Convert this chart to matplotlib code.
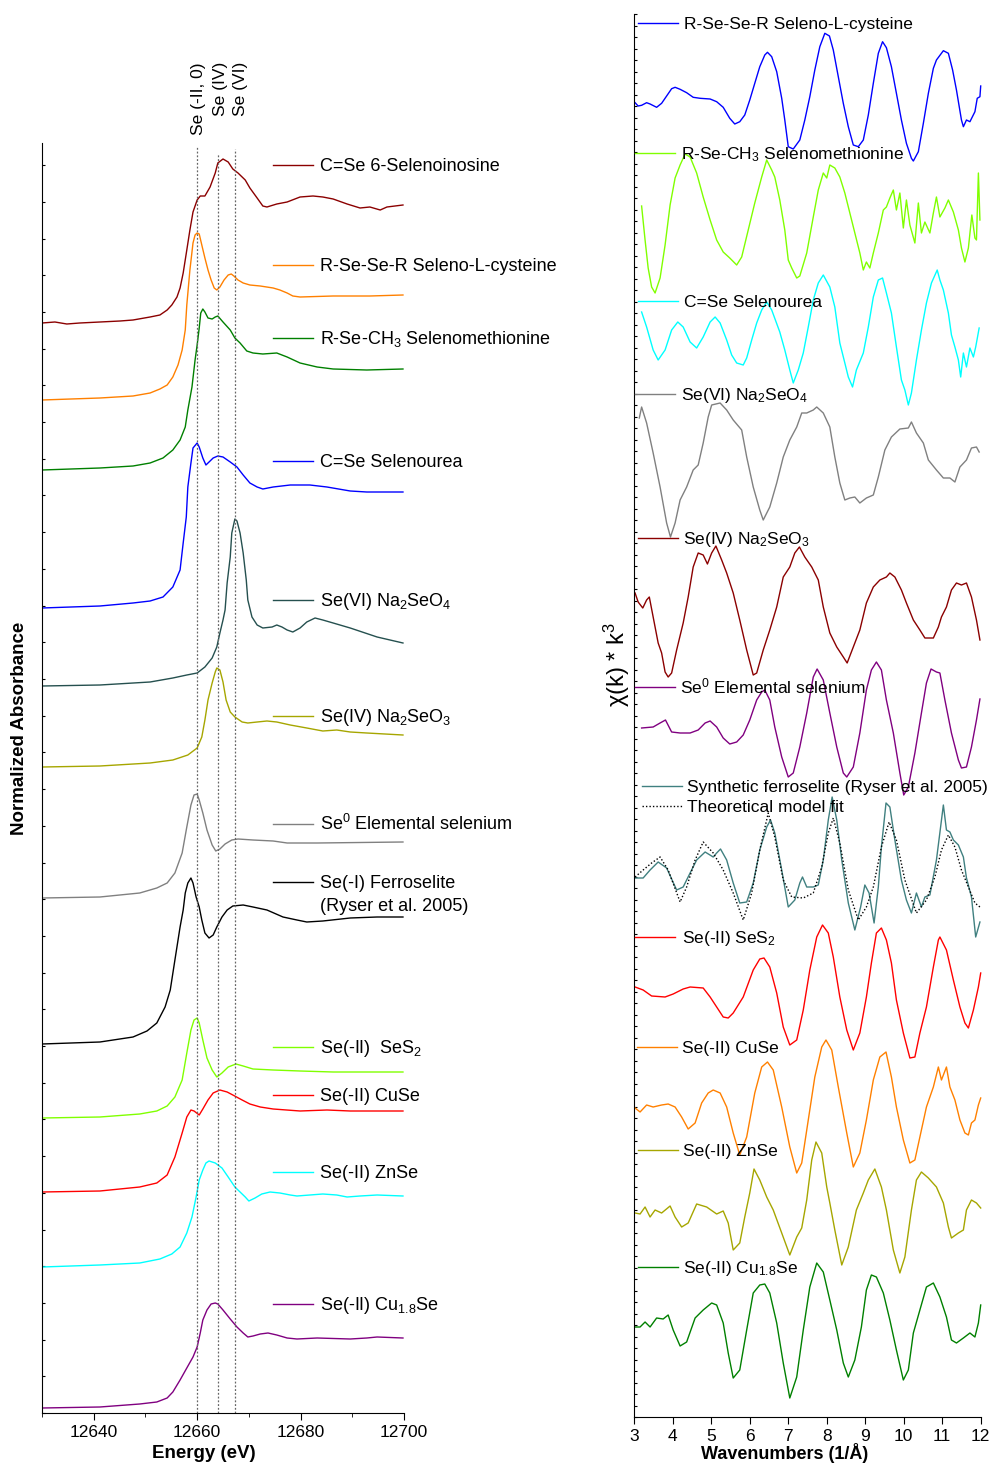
import matplotlib.pyplot as plt
from matplotlib.lines import Line2D
from matplotlib.ticker import MultipleLocator, FixedLocator

plt.rcParams['font.family'] = ['Liberation Sans', 'DejaVu Sans']
plt.rcParams['mathtext.fontset'] = 'custom'
plt.rcParams['mathtext.rm'] = 'Liberation Sans'
plt.rcParams['mathtext.it'] = 'Liberation Sans:italic'
plt.rcParams['mathtext.bf'] = 'Liberation Sans:bold'

# ---- Se K-edge XANES: (energy in eV, absorbance above pre-edge) ----
xanes_selenoinosine = [
    (12630.0, 0.00), (12632.5, 0.01), (12634.8, -0.01), (12637.3, 0.00), (12641.2, 0.01),
    (12645.1, 0.02), (12647.6, 0.03), (12650.9, 0.06), (12652.8, 0.08), (12654.2, 0.13),
    (12655.1, 0.18), (12656.1, 0.26), (12656.7, 0.35), (12657.3, 0.50), (12658.0, 0.73),
    (12658.6, 0.93), (12659.2, 1.11), (12660.0, 1.23), (12660.6, 1.27), (12661.5, 1.27),
    (12662.5, 1.36), (12663.5, 1.50), (12664.0, 1.60), (12665.0, 1.64), (12666.0, 1.61),
    (12666.9, 1.54), (12667.9, 1.50), (12669.3, 1.43), (12670.2, 1.35), (12671.6, 1.25),
    (12672.7, 1.17), (12673.5, 1.16), (12675.4, 1.19), (12677.4, 1.21), (12679.9, 1.26),
    (12682.4, 1.27), (12684.3, 1.26), (12686.3, 1.24), (12689.0, 1.19), (12691.5, 1.15),
    (12693.4, 1.16), (12695.4, 1.13), (12696.7, 1.16), (12699.8, 1.18)]
xanes_selenocystine = [
    (12630.0, 0.00), (12641.2, 0.02), (12647.6, 0.04), (12650.9, 0.07), (12652.8, 0.11),
    (12654.2, 0.15), (12655.3, 0.23), (12656.3, 0.35), (12657.1, 0.50), (12657.7, 0.70),
    (12658.0, 0.95), (12658.6, 1.30), (12659.2, 1.57), (12659.6, 1.65), (12660.0, 1.67),
    (12660.4, 1.66), (12660.9, 1.55), (12661.5, 1.42), (12662.1, 1.30), (12662.7, 1.20),
    (12663.3, 1.12), (12663.8, 1.10), (12664.4, 1.13), (12665.2, 1.20), (12666.0, 1.25),
    (12666.6, 1.26), (12667.1, 1.24), (12667.9, 1.20), (12668.9, 1.17), (12670.2, 1.15),
    (12672.2, 1.14), (12674.7, 1.12), (12676.0, 1.10), (12677.4, 1.07), (12678.5, 1.04),
    (12679.9, 1.03), (12686.3, 1.04), (12693.4, 1.04), (12699.8, 1.05)]
xanes_selenomethionine = [
    (12630.0, 0.00), (12641.2, 0.02), (12647.6, 0.04), (12650.9, 0.07), (12653.4, 0.12),
    (12655.3, 0.20), (12656.7, 0.30), (12657.7, 0.43), (12658.2, 0.60), (12659.0, 0.83),
    (12659.6, 1.10), (12660.0, 1.25), (12660.4, 1.42), (12660.7, 1.57), (12661.1, 1.61),
    (12661.5, 1.58), (12662.1, 1.52), (12662.9, 1.51), (12663.5, 1.53), (12664.0, 1.54),
    (12665.0, 1.48), (12666.4, 1.40), (12667.3, 1.32), (12668.3, 1.27), (12669.6, 1.19),
    (12670.8, 1.17), (12672.7, 1.16), (12675.4, 1.17), (12677.4, 1.13), (12679.9, 1.07),
    (12683.2, 1.03), (12686.3, 1.01), (12692.8, 1.00), (12699.8, 1.01)]
xanes_selenourea = [
    (12630.0, 0.00), (12641.2, 0.02), (12647.6, 0.05), (12650.9, 0.07), (12653.4, 0.11),
    (12655.3, 0.21), (12656.7, 0.38), (12657.3, 0.65), (12657.9, 0.91), (12658.2, 1.21),
    (12658.8, 1.45), (12659.2, 1.60), (12660.0, 1.65), (12660.4, 1.61), (12661.1, 1.50),
    (12661.7, 1.43), (12662.3, 1.46), (12663.1, 1.50), (12664.0, 1.52), (12665.0, 1.51),
    (12666.4, 1.46), (12667.7, 1.41), (12668.9, 1.33), (12670.2, 1.25), (12671.6, 1.21),
    (12672.7, 1.19), (12674.7, 1.21), (12678.0, 1.23), (12681.8, 1.23), (12685.1, 1.21),
    (12689.6, 1.17), (12692.8, 1.16), (12699.8, 1.16)]
xanes_selenate = [
    (12630.0, 0.00), (12641.2, 0.01), (12650.9, 0.04), (12655.3, 0.08), (12658.0, 0.11),
    (12660.0, 0.13), (12661.5, 0.19), (12662.9, 0.28), (12663.8, 0.39), (12664.4, 0.53),
    (12665.0, 0.66), (12665.4, 0.76), (12665.8, 1.03), (12666.4, 1.29), (12666.7, 1.53),
    (12667.3, 1.67), (12667.7, 1.65), (12668.3, 1.53), (12668.9, 1.33), (12669.5, 1.06),
    (12669.8, 0.86), (12670.6, 0.69), (12671.6, 0.61), (12672.7, 0.58), (12674.5, 0.59),
    (12675.4, 0.61), (12676.4, 0.59), (12677.4, 0.56), (12678.5, 0.54), (12679.9, 0.58),
    (12681.2, 0.64), (12682.8, 0.68), (12684.3, 0.66), (12686.3, 0.63), (12689.6, 0.58),
    (12694.8, 0.49), (12699.8, 0.43)]
xanes_selenite = [
    (12630.0, 0.00), (12641.2, 0.01), (12650.9, 0.04), (12655.3, 0.07), (12658.2, 0.12),
    (12660.0, 0.19), (12660.9, 0.30), (12661.5, 0.47), (12662.1, 0.67), (12662.9, 0.84),
    (12663.5, 0.95), (12663.8, 0.99), (12664.4, 0.97), (12665.0, 0.85), (12665.6, 0.67),
    (12666.4, 0.55), (12667.3, 0.50), (12668.7, 0.45), (12669.8, 0.44), (12671.6, 0.45),
    (12673.5, 0.46), (12675.4, 0.45), (12678.0, 0.42), (12681.2, 0.39), (12684.3, 0.36),
    (12687.0, 0.37), (12689.6, 0.35), (12692.8, 0.34), (12699.8, 0.32)]
xanes_elemental = [
    (12630.0, 0.00), (12641.2, 0.01), (12648.9, 0.05), (12652.2, 0.10), (12654.2, 0.15),
    (12655.7, 0.25), (12657.1, 0.45), (12658.0, 0.71), (12658.8, 0.93), (12659.4, 1.03),
    (12660.0, 1.04), (12660.4, 0.98), (12661.1, 0.85), (12661.9, 0.68), (12662.9, 0.53),
    (12663.6, 0.47), (12664.4, 0.49), (12665.4, 0.54), (12666.7, 0.58), (12667.9, 0.59),
    (12670.8, 0.58), (12674.7, 0.57), (12677.4, 0.55), (12683.2, 0.55), (12699.8, 0.56)]
xanes_ferroselite = [
    (12630.0, 0.00), (12641.2, 0.02), (12647.6, 0.07), (12650.3, 0.13), (12652.2, 0.21),
    (12653.8, 0.37), (12654.8, 0.54), (12655.7, 0.84), (12656.7, 1.17), (12657.3, 1.34),
    (12657.7, 1.51), (12658.2, 1.61), (12658.8, 1.66), (12659.2, 1.61), (12659.8, 1.47),
    (12660.4, 1.37), (12660.9, 1.24), (12661.5, 1.11), (12662.3, 1.06), (12663.1, 1.09),
    (12663.8, 1.17), (12664.8, 1.27), (12665.8, 1.34), (12666.9, 1.38), (12668.9, 1.39),
    (12670.8, 1.37), (12673.5, 1.34), (12676.6, 1.27), (12679.3, 1.24), (12681.2, 1.22),
    (12684.3, 1.23), (12689.6, 1.26), (12694.8, 1.27), (12699.8, 1.27)]
xanes_ses2 = [
    (12630.0, 0.00), (12641.2, 0.01), (12648.9, 0.04), (12652.2, 0.07), (12654.2, 0.12),
    (12655.7, 0.21), (12657.1, 0.38), (12658.0, 0.65), (12658.8, 0.88), (12659.4, 0.98),
    (12660.0, 1.00), (12660.4, 0.95), (12661.1, 0.78), (12661.9, 0.60), (12662.9, 0.48),
    (12663.8, 0.41), (12664.8, 0.45), (12666.0, 0.51), (12667.5, 0.54), (12668.9, 0.52),
    (12670.8, 0.49), (12674.7, 0.48), (12679.9, 0.47), (12686.3, 0.46), (12699.8, 0.46)]
xanes_cuse = [
    (12630.0, 0.00), (12641.2, 0.01), (12648.9, 0.05), (12652.2, 0.09), (12654.2, 0.17),
    (12655.7, 0.35), (12657.1, 0.59), (12658.0, 0.75), (12658.8, 0.82), (12659.4, 0.81),
    (12660.4, 0.77), (12661.1, 0.83), (12662.1, 0.92), (12663.1, 0.99), (12664.4, 1.02),
    (12665.8, 1.00), (12666.9, 0.97), (12668.7, 0.92), (12670.2, 0.88), (12672.2, 0.85),
    (12674.7, 0.83), (12679.9, 0.81), (12685.1, 0.82), (12689.6, 0.81), (12699.8, 0.81)]
xanes_znse = [
    (12630.0, 0.00), (12641.2, 0.02), (12648.9, 0.04), (12652.8, 0.08), (12655.1, 0.13),
    (12656.7, 0.20), (12658.0, 0.34), (12659.0, 0.50), (12659.8, 0.70), (12660.4, 0.87),
    (12661.1, 0.97), (12661.7, 1.04), (12662.3, 1.06), (12663.5, 1.04), (12664.8, 0.99),
    (12666.0, 0.90), (12667.3, 0.80), (12668.3, 0.75), (12669.3, 0.70), (12670.0, 0.66),
    (12671.2, 0.69), (12672.5, 0.73), (12674.1, 0.75), (12676.0, 0.74), (12678.0, 0.72),
    (12679.3, 0.71), (12681.8, 0.72), (12684.3, 0.73), (12687.0, 0.72), (12689.0, 0.70),
    (12691.5, 0.71), (12694.8, 0.72), (12699.8, 0.71)]
xanes_cu18se = [
    (12630.0, 0.00), (12641.2, 0.01), (12648.9, 0.04), (12652.2, 0.06), (12654.2, 0.10),
    (12655.3, 0.16), (12656.7, 0.28), (12658.0, 0.40), (12659.2, 0.51), (12660.0, 0.61),
    (12660.6, 0.75), (12661.1, 0.88), (12661.9, 0.98), (12662.7, 1.04), (12663.5, 1.05),
    (12664.0, 1.04), (12665.0, 0.98), (12666.4, 0.89), (12667.7, 0.81), (12668.9, 0.75),
    (12669.8, 0.71), (12670.8, 0.72), (12672.2, 0.74), (12673.7, 0.75), (12675.4, 0.73),
    (12677.4, 0.70), (12679.3, 0.69), (12683.2, 0.70), (12689.6, 0.69), (12692.8, 0.70),
    (12694.8, 0.71), (12699.8, 0.70)]

xanes_labels = [
    "C=Se 6-Selenoinosine", "R-Se-Se-R Seleno-L-cysteine", "R-Se-CH$_3$ Selenomethionine",
    "C=Se Selenourea", "Se(VI) Na$_2$SeO$_4$", "Se(IV) Na$_2$SeO$_3$",
    "Se$^0$ Elemental selenium", "Se(-I) Ferroselite",
    "Se(-II)  SeS$_2$", "Se(-II) CuSe", "Se(-II) ZnSe", "Se(-II) Cu$_{1.8}$Se"]
xanes_colors = ["#8B0000", "#FF8000", "#008000", "#0000FF", "#25504F", "#A6A600",
                "#808080", "#000000", "#80FF00", "#FF0000", "#00FFFF", "#800080"]
# reference oxidation-state energies
edge_energies = [12660.0, 12664.0, 12667.3]
edge_labels = ["Se (-II, 0)", "Se (IV)", "Se (VI)"]

# ---- k^3-weighted EXAFS: (k in 1/A, chi(k)*k^3) ----
exafs_selenocystine = [
    (3.02, -2.7), (3.10, -6.0), (3.19, -5.3), (3.32, -2.7), (3.41, -4.0), (3.58, -7.3),
    (3.71, -3.3), (3.84, 4.0), (3.97, 11.3), (4.06, 12.7), (4.19, 10.7), (4.36, 7.3),
    (4.53, 2.7), (4.71, 1.7), (4.97, 1.0), (5.14, -1.7), (5.31, -7.3), (5.48, -18.3),
    (5.61, -24.0), (5.74, -21.7), (5.87, -15.0), (6.00, 0.0), (6.13, 16.7), (6.26, 33.3),
    (6.39, 45.0), (6.46, 47.7), (6.57, 43.3), (6.70, 28.3), (6.83, 1.7), (6.91, -20.0),
    (7.00, -46.7), (7.13, -49.0), (7.30, -40.0), (7.43, -20.0), (7.56, 3.3), (7.69, 30.0),
    (7.82, 53.3), (7.95, 66.7), (8.07, 64.0), (8.17, 50.0), (8.30, 23.3), (8.43, -3.3),
    (8.56, -26.7), (8.69, -45.0), (8.82, -46.7), (8.95, -40.0), (9.08, -15.0), (9.21, 16.7),
    (9.34, 46.7), (9.45, 58.3), (9.55, 52.3), (9.68, 33.3), (9.81, 6.7), (9.94, -20.0),
    (10.07, -43.3), (10.20, -58.3), (10.25, -61.0), (10.38, -51.7), (10.51, -23.3),
    (10.64, 6.7), (10.77, 31.7), (10.85, 40.0), (11.03, 49.3), (11.16, 46.7), (11.27, 30.0),
    (11.37, 10.0), (11.50, -20.0), (11.55, -26.7), (11.63, -20.0), (11.72, -21.7),
    (11.85, -11.7), (11.91, 1.7), (11.98, 3.3), (12.00, 14.0)]
exafs_selenomethionine = [
    (3.19, 14), (3.28, -20), (3.36, -48), (3.45, -67), (3.54, -73), (3.67, -58), (3.80, -25),
    (3.93, 15), (4.06, 42), (4.19, 55), (4.32, 66), (4.45, 63), (4.62, 47), (4.79, 23),
    (4.97, 0), (5.14, -20), (5.31, -32), (5.48, -38), (5.66, -45), (5.79, -37), (5.96, -10),
    (6.13, 17), (6.31, 43), (6.44, 60), (6.57, 50), (6.65, 43), (6.78, 20), (6.91, -10),
    (7.00, -40), (7.09, -48), (7.22, -58), (7.30, -56), (7.48, -33), (7.65, 3), (7.78, 30),
    (7.91, 47), (8.00, 42), (8.08, 55), (8.21, 52), (8.34, 43), (8.47, 27), (8.60, 7),
    (8.73, -13), (8.86, -33), (8.95, -50), (9.03, -42), (9.12, -48), (9.21, -33), (9.34, -13),
    (9.47, 10), (9.55, 13), (9.64, 22), (9.73, 30), (9.81, 10), (9.90, 27), (9.99, -8),
    (10.07, 20), (10.16, -5), (10.29, -23), (10.38, 17), (10.46, -13), (10.55, -2),
    (10.68, -13), (10.77, 7), (10.85, 23), (10.94, 3), (11.07, 12), (11.16, 20), (11.29, 8),
    (11.42, -10), (11.50, -28), (11.59, -42), (11.68, -28), (11.77, 5), (11.85, -18),
    (11.89, -20), (11.94, 47), (11.98, 0)]
exafs_selenourea = [
    (3.19, 23), (3.32, 8), (3.49, -15), (3.62, -25), (3.80, -15), (3.97, 5), (4.13, 13),
    (4.27, 8), (4.45, -7), (4.62, -13), (4.79, -2), (4.97, 13), (5.10, 18), (5.23, 12),
    (5.40, -5), (5.53, -20), (5.66, -28), (5.83, -30), (5.92, -23), (6.05, -5), (6.18, 12),
    (6.31, 25), (6.44, 33), (6.57, 25), (6.78, 3), (6.91, -15), (7.04, -35), (7.13, -48),
    (7.26, -35), (7.39, -18), (7.52, 8), (7.65, 35), (7.78, 52), (7.91, 60), (8.08, 48),
    (8.21, 28), (8.34, -8), (8.47, -28), (8.56, -42), (8.67, -52), (8.77, -35), (8.95, -18),
    (9.08, 8), (9.21, 38), (9.34, 55), (9.45, 57), (9.55, 42), (9.68, 22), (9.81, -12),
    (9.94, -45), (10.03, -55), (10.12, -70), (10.20, -58), (10.33, -25), (10.46, 5),
    (10.59, 32), (10.72, 52), (10.87, 65), (10.94, 55), (11.03, 45), (11.16, 22), (11.24, 0),
    (11.33, -12), (11.42, -25), (11.48, -42), (11.55, -18), (11.63, -32), (11.72, -13),
    (11.81, -22), (11.87, -12), (11.96, 7)]
exafs_selenate = [
    (3.13, 42), (3.19, 53), (3.32, 37), (3.49, 7), (3.67, -27), (3.84, -63), (3.94, -77),
    (4.06, -63), (4.19, -40), (4.36, -27), (4.53, -10), (4.66, -5), (4.79, 17), (4.92, 43),
    (5.01, 55), (5.23, 57), (5.40, 50), (5.57, 40), (5.79, 30), (5.92, 3), (6.09, -27),
    (6.26, -50), (6.35, -60), (6.52, -47), (6.70, -23), (6.87, 3), (7.04, 20), (7.22, 33),
    (7.35, 47), (7.48, 47), (7.65, 50), (7.74, 53), (7.91, 47), (8.08, 33), (8.21, 3),
    (8.34, -23), (8.47, -40), (8.60, -38), (8.73, -37), (8.86, -43), (9.03, -38), (9.21, -35),
    (9.34, -17), (9.51, 10), (9.68, 23), (9.90, 31), (10.12, 32), (10.20, 38), (10.33, 27),
    (10.51, 17), (10.64, 0), (10.85, -10), (11.03, -18), (11.20, -18), (11.33, -22),
    (11.46, -7), (11.63, 0), (11.76, 12), (11.89, 13), (11.96, 8)]
exafs_selenite = [
    (3.02, 17), (3.10, 8), (3.22, 2), (3.32, 10), (3.39, 13), (3.49, -7), (3.62, -33),
    (3.71, -43), (3.80, -62), (3.88, -67), (3.97, -63), (4.10, -40), (4.27, -13), (4.40, 13),
    (4.53, 43), (4.66, 57), (4.79, 55), (4.90, 46), (5.01, 57), (5.12, 64), (5.27, 50),
    (5.40, 37), (5.57, 17), (5.74, -10), (5.92, -40), (6.09, -65), (6.18, -63), (6.35, -40),
    (6.52, -20), (6.70, 3), (6.87, 33), (7.04, 43), (7.17, 57), (7.29, 63), (7.43, 53),
    (7.61, 43), (7.78, 30), (7.91, 3), (8.08, -23), (8.26, -37), (8.43, -47), (8.53, -53),
    (8.69, -37), (8.86, -20), (9.03, 7), (9.21, 23), (9.38, 30), (9.55, 33), (9.64, 37),
    (9.77, 33), (9.94, 20), (10.07, 7), (10.25, -10), (10.42, -20), (10.55, -28), (10.77, -28),
    (10.90, -17), (10.98, -7), (11.11, 3), (11.24, 20), (11.37, 27), (11.50, 25), (11.63, 27),
    (11.76, 13), (11.89, -10), (11.98, -30)]
exafs_elemental = [
    (3.19, -1), (3.49, 0), (3.67, 4), (3.81, 7), (3.97, -5), (4.19, -6), (4.45, -6), (4.66, -3),
    (4.84, 4), (4.97, 6), (5.14, 0), (5.31, -11), (5.48, -17), (5.66, -15), (5.83, -8),
    (6.00, 7), (6.18, 27), (6.31, 35), (6.39, 37), (6.52, 27), (6.65, 0), (6.83, -30),
    (7.00, -50), (7.13, -46), (7.30, -20), (7.48, 14), (7.65, 50), (7.75, 58), (7.91, 47),
    (8.08, 14), (8.26, -20), (8.43, -46), (8.52, -50), (8.69, -40), (8.86, -6), (9.03, 37),
    (9.16, 57), (9.29, 65), (9.42, 57), (9.55, 27), (9.73, -6), (9.90, -46), (10.00, -68),
    (10.12, -60), (10.29, -26), (10.46, 14), (10.59, 44), (10.71, 58), (10.85, 55), (10.94, 54),
    (11.07, 27), (11.24, -6), (11.42, -33), (11.50, -41), (11.63, -40), (11.76, -20),
    (11.89, 7), (11.98, 28)]
exafs_ferroselite = [
    (3.02, -3), (3.23, -3), (3.41, 5), (3.62, 13), (3.84, 7), (4.10, -15), (4.27, -12),
    (4.45, 2), (4.62, 15), (4.84, 23), (5.05, 18), (5.14, 22), (5.24, 26), (5.40, 15),
    (5.57, -8), (5.74, -28), (5.92, -27), (6.09, -8), (6.26, 25), (6.44, 48), (6.54, 55),
    (6.65, 42), (6.83, 5), (7.00, -32), (7.17, -25), (7.30, -8), (7.37, -2), (7.48, -12),
    (7.65, -12), (7.78, -10), (7.91, 15), (8.04, 55), (8.14, 78), (8.26, 55), (8.39, 15),
    (8.56, -28), (8.73, -55), (8.88, -32), (8.99, -10), (9.10, -18), (9.23, -48), (9.34, -12),
    (9.42, 28), (9.54, 72), (9.64, 68), (9.77, 35), (9.94, -5), (10.07, -25), (10.20, -38),
    (10.33, -18), (10.46, -32), (10.55, -22), (10.68, -20), (10.85, 15), (11.03, 70),
    (11.11, 45), (11.20, 43), (11.29, 35), (11.42, 30), (11.55, 18), (11.63, -3), (11.76, -22),
    (11.87, -62), (11.98, -47)]
exafs_ferroselite_fit = [
    (3.02, -2), (3.23, 5), (3.45, 12), (3.67, 18), (3.88, 5), (4.19, -27), (4.36, -12),
    (4.58, 15), (4.79, 33), (5.05, 22), (5.31, 5), (5.57, -18), (5.83, -45), (6.05, -18),
    (6.26, 25), (6.48, 62), (6.65, 38), (6.87, -5), (7.09, -22), (7.39, -23), (7.65, -18),
    (7.87, 8), (8.04, 42), (8.17, 57), (8.34, 32), (8.56, -15), (8.82, -45), (9.03, -32),
    (9.21, -12), (9.42, 28), (9.62, 53), (9.81, 35), (10.03, -5), (10.33, -38), (10.59, -25),
    (10.81, -2), (10.98, 25), (11.16, 40), (11.33, 28), (11.50, 5), (11.68, -12), (11.85, -28),
    (11.98, -32)]
exafs_ses2 = [
    (3.02, 3), (3.23, 0), (3.45, -6), (3.80, -7), (4.01, -4), (4.27, 1), (4.45, 3), (4.79, 2),
    (4.97, -7), (5.14, -17), (5.31, -27), (5.44, -28), (5.57, -23), (5.83, -7), (6.09, 20),
    (6.26, 31), (6.37, 32), (6.52, 23), (6.70, -3), (6.87, -37), (7.04, -55), (7.22, -50),
    (7.39, -20), (7.56, 20), (7.74, 53), (7.89, 65), (8.04, 57), (8.17, 33), (8.34, -7),
    (8.52, -40), (8.69, -60), (8.86, -43), (9.03, -7), (9.16, 27), (9.29, 57), (9.42, 62),
    (9.55, 50), (9.68, 27), (9.81, -10), (9.99, -43), (10.16, -68), (10.29, -67), (10.42, -43),
    (10.59, -17), (10.77, 23), (10.90, 50), (10.94, 53), (11.11, 40), (11.29, 10), (11.46, -17),
    (11.59, -33), (11.68, -38), (11.81, -20), (11.94, 3), (12.00, 17)]
exafs_cuse = [
    (3.02, -1), (3.15, -5), (3.32, 2), (3.49, 0), (3.71, 2), (3.88, 3), (4.06, 0), (4.23, -10),
    (4.40, -22), (4.58, -16), (4.75, 4), (4.92, 14), (5.05, 17), (5.23, 14), (5.40, 0),
    (5.57, -26), (5.74, -48), (5.92, -30), (6.13, 14), (6.31, 40), (6.46, 45), (6.61, 37),
    (6.83, 0), (7.04, -40), (7.22, -66), (7.35, -56), (7.52, -13), (7.69, 30), (7.87, 60),
    (7.98, 67), (8.13, 57), (8.30, 20), (8.52, -26), (8.69, -60), (8.86, -46), (9.03, -13),
    (9.21, 27), (9.38, 50), (9.54, 55), (9.68, 30), (9.81, 0), (9.99, -33), (10.16, -56),
    (10.29, -53), (10.42, -30), (10.59, 0), (10.77, 20), (10.90, 40), (10.98, 27), (11.11, 40),
    (11.20, 20), (11.33, 7), (11.46, -13), (11.59, -26), (11.68, -28), (11.76, -16),
    (11.85, -13), (11.94, 2), (12.00, 9)]
exafs_znse = [
    (3.02, 0), (3.15, -1), (3.28, 6), (3.41, -4), (3.54, 3), (3.71, 0), (3.93, 7), (4.06, -4),
    (4.23, -14), (4.40, -10), (4.62, 9), (4.88, 6), (5.14, -1), (5.31, 2), (5.44, -10),
    (5.57, -37), (5.74, -30), (5.87, -4), (6.00, 20), (6.11, 44), (6.26, 33), (6.44, 16),
    (6.61, 3), (6.83, -20), (7.04, -42), (7.22, -24), (7.35, -15), (7.48, 13), (7.61, 53),
    (7.72, 71), (7.87, 60), (8.00, 26), (8.08, 10), (8.21, -17), (8.39, -52), (8.56, -34),
    (8.77, 3), (8.95, 20), (9.08, 33), (9.25, 44), (9.42, 26), (9.55, 3), (9.73, -37),
    (9.90, -60), (10.03, -44), (10.20, 3), (10.33, 33), (10.46, 41), (10.64, 35), (10.85, 26),
    (11.03, 10), (11.16, -14), (11.24, -25), (11.42, -20), (11.55, -17), (11.63, 3),
    (11.76, 13), (11.89, 10), (12.00, 5)]
exafs_cu18se = [
    (3.02, 0), (3.15, 0), (3.28, 5), (3.41, 0), (3.58, 9), (3.75, 8), (3.88, 12), (4.01, -3),
    (4.19, -19), (4.36, -15), (4.58, 9), (4.79, 17), (5.01, 24), (5.14, 22), (5.31, 4),
    (5.44, -26), (5.57, -51), (5.74, -43), (5.92, -3), (6.09, 34), (6.26, 42), (6.39, 43),
    (6.52, 34), (6.70, 4), (6.87, -36), (7.04, -71), (7.22, -50), (7.39, -3), (7.56, 40),
    (7.74, 64), (7.91, 55), (8.08, 27), (8.26, -3), (8.43, -36), (8.56, -50), (8.73, -33),
    (8.90, 0), (9.03, 37), (9.16, 52), (9.29, 50), (9.47, 34), (9.64, 7), (9.81, -23),
    (9.99, -53), (10.12, -43), (10.25, -6), (10.42, 17), (10.59, 40), (10.77, 44), (10.94, 30),
    (11.11, 10), (11.24, -13), (11.37, -16), (11.55, -11), (11.72, -6), (11.85, -10),
    (11.94, 4), (12.00, 22)]

exafs_labels = [
    "R-Se-Se-R Seleno-L-cysteine", "R-Se-CH$_3$ Selenomethionine", "C=Se Selenourea",
    "Se(VI) Na$_2$SeO$_4$", "Se(IV) Na$_2$SeO$_3$", "Se$^0$ Elemental selenium",
    "Synthetic ferroselite (Ryser et al. 2005)", "Se(-II) SeS$_2$", "Se(-II) CuSe",
    "Se(-II) ZnSe", "Se(-II) Cu$_{1.8}$Se"]
exafs_colors = ["#0000FF", "#80FF00", "#00FFFF", "#808080", "#8B0000", "#800080",
                "#408080", "#FF0000", "#FF8000", "#A6A600", "#008000"]

xanes_spectra = [xanes_selenoinosine, xanes_selenocystine, xanes_selenomethionine,
                 xanes_selenourea, xanes_selenate, xanes_selenite, xanes_elemental,
                 xanes_ferroselite, xanes_ses2, xanes_cuse, xanes_znse, xanes_cu18se]
exafs_spectra = [exafs_selenocystine, exafs_selenomethionine, exafs_selenourea,
                 exafs_selenate, exafs_selenite, exafs_elemental, exafs_ferroselite,
                 exafs_ses2, exafs_cuse, exafs_znse, exafs_cu18se]

# stacking offsets and legend rows (figure pixels from top)
xanes_offsets = [10.90, 10.13, 9.43, 8.05, 7.27, 6.46, 5.15, 3.69, 2.95, 2.21, 1.46, 0.05]
xanes_legend_y = [165, 265, 338, 461, 600, 716, 824, 882, 1047, 1095, 1172, 1304]
exafs_offsets = [1317, 1197, 1082, 957, 807, 690, 542, 427, 310, 204, 90]
exafs_legend = [(638, 684, 23), (635, 681, 153), (638, 684, 301), (635, 681, 394),
                (638, 683, 538), (635, 680, 687), (642, 687, 786), (635, 682, 937),
                (637, 682, 1047), (638, 683, 1150), (638, 683, 1267)]

W, H = 995, 1467


def fx(x):
    return x / W


def fy(y):
    return 1 - y / H


def legend_entry(fig, x0, xt, y, color, text, size, ls='-'):
    fig.add_artist(Line2D([fx(x0), fx(x0 + 40)], [fy(y), fy(y)], transform=fig.transFigure,
                          color=color, lw=1.0, ls=ls))
    fig.text(fx(xt), fy(y + 6), text, fontsize=size, ha='left', va='baseline')


fig = plt.figure(figsize=(W / 100, H / 100), dpi=100)
ax1 = fig.add_axes([42 / W, 54 / H, 362 / W, 1270 / H])
ax2 = fig.add_axes([634.3 / W, 50 / H, 346.4 / W, 1403 / H])

# XANES panel
for spec, off, col in zip(xanes_spectra, xanes_offsets, xanes_colors):
    e, a = zip(*spec)
    ax1.plot(e, [v + off for v in a], color=col, lw=1.0)

edge_tops = [12.67, 12.59, 12.64]
for en, top in zip(edge_energies, edge_tops):
    ax1.vlines(en, 0, top, colors='#666666', linestyles=(0, (1.5, 1.5)), lw=0.9, clip_on=False)

ax1.set_xlim(12630, 12700)
ax1.set_ylim(0, 12.70)
ax1.xaxis.set_major_locator(FixedLocator([12640, 12660, 12680, 12700]))
ax1.xaxis.set_minor_locator(MultipleLocator(10))
ax1.yaxis.set_major_locator(MultipleLocator(0.367))
ax1.set_yticklabels([])

for col, lab, y in zip(xanes_colors, xanes_labels, xanes_legend_y):
    legend_entry(fig, 273, 320, y, col, lab, 13)
fig.text(fx(320), fy(911), "(Ryser et al. 2005)", fontsize=13, ha='left', va='baseline')

for lab, xc, yb in zip(edge_labels, [199, 221, 241], [135, 116, 116]):
    fig.text(fx(xc), fy(yb), lab, rotation=90, fontsize=12.5, ha='center', va='bottom')

fig.text(fx(20), fy(728), "Normalized Absorbance", rotation=90, fontsize=13.5,
         fontweight='bold', ha='center', va='center')
fig.text(fx(204), fy(1454), "Energy (eV)", fontsize=13.5, fontweight='bold',
         ha='center', va='center')

# EXAFS panel
for spec, off, col in zip(exafs_spectra, exafs_offsets, exafs_colors):
    k, chi = zip(*spec)
    ax2.plot(k, [v + off for v in chi], color=col, lw=1.0, clip_on=False)
kf, chif = zip(*exafs_ferroselite_fit)
ax2.plot(kf, [v + exafs_offsets[6] for v in chif], color='black', lw=1.0, ls=(0, (1, 1.5)))

ax2.set_xlim(3, 12)
ax2.set_ylim(0, 1403)
ax2.xaxis.set_major_locator(MultipleLocator(1))
ax2.yaxis.set_major_locator(MultipleLocator(11.5))
ax2.set_yticklabels([])

for col, lab, (x0, xt, y) in zip(exafs_colors, exafs_labels, exafs_legend):
    legend_entry(fig, x0, xt, y, col, lab, 12.5)
legend_entry(fig, 642, 687, 806, 'black', "Theoretical model fit", 12.5, ls=(0, (1, 1.5)))

fig.text(fx(617), fy(665), "\u03c7(k) * k$^3$", rotation=90, fontsize=17,
         ha='center', va='center')
fig.text(fx(785), fy(1453), "Wavenumbers (1/\u00c5)", fontsize=13, fontweight='bold',
         ha='center', va='center')

for ax in (ax1, ax2):
    ax.spines['top'].set_visible(False)
    ax.spines['right'].set_visible(False)
    ax.tick_params(axis='y', which='both', direction='in', left=True, length=2.5)
    ax.tick_params(axis='x', which='both', direction='out', labelsize=12.5)
    ax.tick_params(axis='x', which='major', length=5)
    ax.tick_params(axis='x', which='minor', length=3)

fig.savefig("out.png", dpi=100)
